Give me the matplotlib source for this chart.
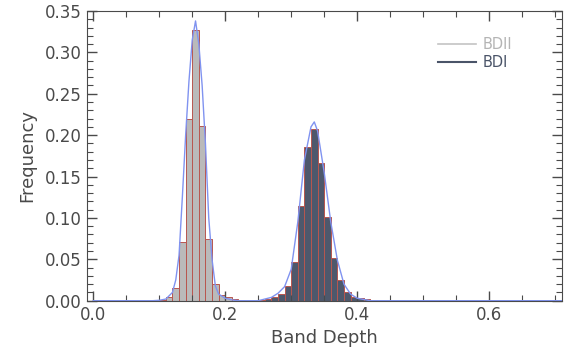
import numpy as np
import matplotlib.pyplot as plt
from matplotlib.ticker import MultipleLocator

# histogram bins (left edges), width 0.01
bdii_left = [0.09, 0.10, 0.11, 0.12, 0.13, 0.14, 0.15, 0.16, 0.17, 0.18, 0.19, 0.20, 0.21, 0.22]
bdii_freq = [0.0005, 0.001, 0.004, 0.015, 0.071, 0.220, 0.327, 0.211, 0.075, 0.020, 0.007, 0.004, 0.002, 0.001]

bdi_left = [0.25, 0.26, 0.27, 0.28, 0.29, 0.30, 0.31, 0.32, 0.33, 0.34, 0.35, 0.36, 0.37, 0.38, 0.39, 0.40, 0.41, 0.42]
bdi_freq = [0.001, 0.002, 0.004, 0.008, 0.018, 0.047, 0.114, 0.186, 0.208, 0.166, 0.101, 0.052, 0.025, 0.011, 0.005, 0.003, 0.0015, 0.001]

# fitted curve (blue)
fit_x = [0.0, 0.09, 0.10, 0.11, 0.12, 0.125, 0.13, 0.135, 0.14, 0.145, 0.15, 0.155, 0.16, 0.165,
         0.17, 0.175, 0.18, 0.185, 0.19, 0.20, 0.21, 0.22, 0.25, 0.27, 0.28, 0.29, 0.30, 0.31,
         0.32, 0.33, 0.335, 0.34, 0.35, 0.36, 0.37, 0.38, 0.39, 0.40, 0.42, 0.71]
fit_y = [0.0, 0.0, 0.0005, 0.002, 0.010, 0.025, 0.055, 0.125, 0.20, 0.265, 0.315, 0.338, 0.31, 0.26,
         0.19, 0.10, 0.05, 0.018, 0.008, 0.003, 0.001, 0.0, 0.0, 0.004, 0.009, 0.017, 0.038, 0.095,
         0.17, 0.21, 0.216, 0.205, 0.155, 0.095, 0.049, 0.02, 0.008, 0.003, 0.0, 0.0]

txt = '#4a4a4a'
edge = '#b8564f'
c_bdii = '#bababa'
c_bdi = '#4e586c'

fig = plt.figure(figsize=(5.64, 3.63), dpi=100)
ax = fig.add_axes([0.1537, 0.1716, 0.8422, 0.7981])

ax.bar(bdii_left, bdii_freq, width=0.01, align='edge', color=c_bdii, edgecolor=edge, linewidth=0.7)
ax.bar(bdi_left, bdi_freq, width=0.01, align='edge', color=c_bdi, edgecolor=edge, linewidth=0.7)
ax.plot(fit_x, fit_y, color='#8093f0', lw=1.0)

ax.set_xlim(-0.01, 0.71)
ax.set_ylim(0, 0.35)
ax.xaxis.set_major_locator(MultipleLocator(0.2))
ax.xaxis.set_minor_locator(MultipleLocator(0.05))
ax.yaxis.set_major_locator(MultipleLocator(0.05))
ax.yaxis.set_minor_locator(MultipleLocator(0.01))
ax.xaxis.set_major_formatter(plt.FormatStrFormatter('%.1f'))
ax.yaxis.set_major_formatter(plt.FormatStrFormatter('%.2f'))
ax.tick_params(which='both', direction='in', top=True, right=True, colors=txt, labelsize=12)
ax.tick_params(which='major', length=7, width=1)
ax.tick_params(which='minor', length=4, width=0.8)
for s in ax.spines.values():
    s.set_color(txt)

ax.set_xlabel('Band Depth', fontsize=13, color=txt, labelpad=4)
ax.set_ylabel('Frequency', fontsize=13, color=txt, labelpad=6)

# legend drawn as lines + text
l1, = ax.plot([], [], color='#c4c4c4', lw=1.2, label='BDII')
l2, = ax.plot([], [], color='#4a5468', lw=1.5, label='BDI')
leg = ax.legend(handles=[l1, l2], loc='upper right', bbox_to_anchor=(0.924, 0.956), frameon=False,
                fontsize=10.5, handlelength=2.6, handletextpad=0.5, labelspacing=0.2)
leg.get_texts()[0].set_color('#b4b4b4')
leg.get_texts()[1].set_color('#4a5468')

fig.savefig('out.png', dpi=100)
